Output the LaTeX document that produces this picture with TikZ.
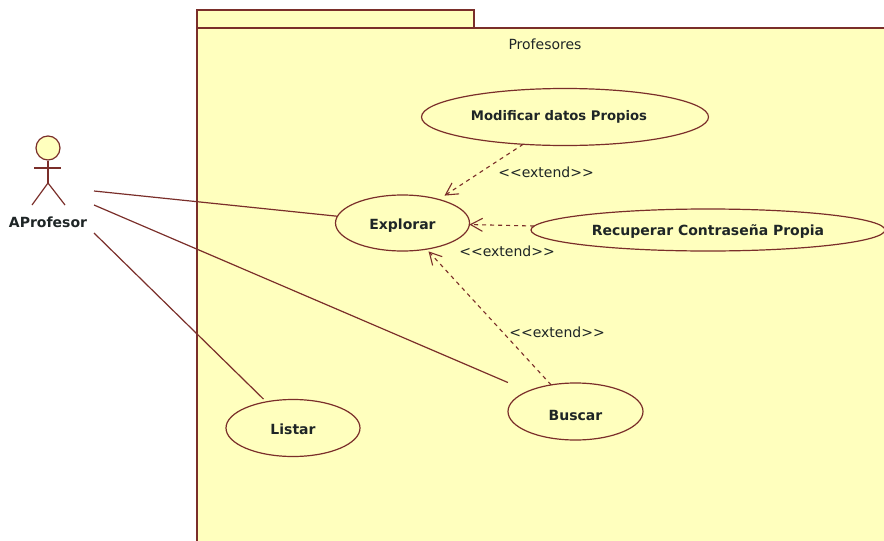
\documentclass[tikz,border=0pt]{standalone}
\usepackage{fontspec}
\setmainfont{DejaVu Sans}
\usetikzlibrary{arrows.meta,shapes.geometric}
\definecolor{umlline}{HTML}{7A2E2A}
\definecolor{umlfill}{HTML}{FFFFBE}
\definecolor{umltext}{HTML}{1E2526}
\tikzset{
    usecase/.style={draw=umlline,fill=umlfill,ellipse,line width=1.2pt,inner sep=0pt,outer sep=0pt,text=umltext,font=\fontsize{14}{16}\selectfont\bfseries},
    assoc/.style={draw=umlline,line width=1.2pt},
    extendline/.style={draw=umlline,line width=1.1pt,dash pattern=on 4pt off 4pt,->,>={Straight Barb[length=12pt,width=13pt]}},
    stereo/.style={text=umltext,font=\fontsize{14}{16}\selectfont,inner sep=0pt},
}
\begin{document}
\begin{tikzpicture}[x=1pt,y=-1pt]
\useasboundingbox (0, 0) rectangle (884, 541);

\draw[fill=umlfill,draw=umlline,line width=1.3pt] (197, 10) rectangle (474, 28);
\draw[fill=umlfill,draw=umlline,line width=1.3pt] (197, 28) rectangle (900, 560);
\node[stereo] (profesores) at (545, 44) {Profesores};

\node[usecase,minimum width=287pt,minimum height=57pt,font=\fontsize{13.2}{16}\selectfont\bfseries] (modificar) at (565, 117) {Modificar datos Propios\hspace{12pt}\null};
\node[usecase,minimum width=134pt,minimum height=56pt,text height=15pt,text depth=3pt] (explorar) at (402.5, 223) {Explorar};
\node[usecase,minimum width=354pt,minimum height=42pt,text height=13pt,text depth=3pt] (recuperar) at (708, 230) {Recuperar Contraseña Propia};
\node[usecase,minimum width=135pt,minimum height=57pt,text height=17pt,text depth=0pt] (buscar) at (575.5, 411.5) {Buscar};
\node[usecase,minimum width=134pt,minimum height=57pt,text height=13pt,text depth=0pt] (listar) at (293, 428) {Listar};

\node[circle,draw=umlline,fill=umlfill,line width=1.2pt,minimum size=24pt,inner sep=0pt] (head) at (48, 148) {};
\coordinate (hip) at (48, 183);
\coordinate (armleft) at (34, 168);
\coordinate (armright) at (61, 168);
\coordinate (footleft) at (32, 205);
\coordinate (footright) at (65, 205);
\draw[assoc] (head) -- (hip);
\draw[assoc] (armleft) -- (armright);
\draw[assoc] (footleft) -- (hip) -- (footright);
\node[text=umltext,inner sep=0pt,font=\fontsize{14}{16}\selectfont\bfseries] (aprofesor) at (48, 222) {AProfesor};

\coordinate (actorone) at (94, 191);
\coordinate (actortwo) at (94, 205);
\coordinate (actorthree) at (94, 233);
\draw[assoc] (actorone) -- (explorar);
\draw[assoc,shorten >=22pt] (actortwo) -- (buscar);
\draw[assoc,shorten >=4pt] (actorthree) -- (listar);

\draw[extendline,shorten >=7pt] (modificar) -- (explorar);
\draw[extendline] (recuperar) -- (explorar);
\draw[extendline,shorten >=3pt] (buscar) -- (explorar);

\node[stereo] (extendone) at (546, 172) {<{}<extend>{}>};
\node[stereo] (extendtwo) at (507, 251) {<{}<extend>{}>};
\node[stereo] (extendthree) at (557, 332) {<{}<extend>{}>};

\end{tikzpicture}
\end{document}
